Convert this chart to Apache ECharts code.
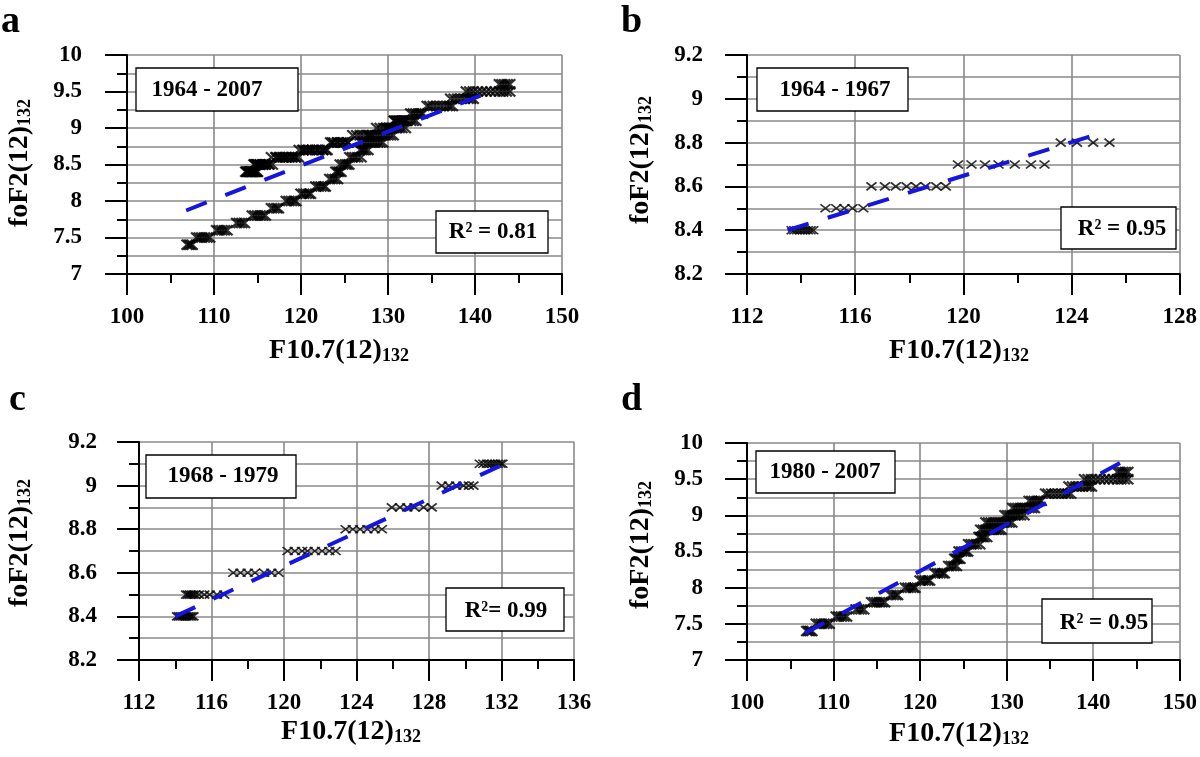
<!DOCTYPE html>
<html>
<head>
<meta charset="utf-8">
<script src="https://cdn.jsdelivr.net/npm/echarts@6/dist/echarts.min.js"></script>
<style>
html,body{margin:0;padding:0;background:#fff;}
#chart{width:1200px;height:757px;}
</style>
</head>
<body>
<div id="chart"></div>
<script>
// ---------- DATA ----------
// Panel b: 1964-1967  [F10.7(12)132, foF2(12)132]
const data6467 = [
  [113.65,8.4],[113.75,8.4],[113.85,8.4],[113.95,8.4],[114.05,8.4],[114.15,8.4],[114.25,8.4],[114.35,8.4],[114.45,8.4],
  [114.9,8.5],[115.3,8.5],[115.6,8.5],[115.9,8.5],[116.3,8.5],
  [116.6,8.6],[117.1,8.6],[117.5,8.6],[117.9,8.6],[118.25,8.6],[118.6,8.6],[119.0,8.6],[119.35,8.6],
  [119.8,8.7],[120.3,8.7],[120.8,8.7],[121.3,8.7],[121.9,8.7],[122.5,8.7],[123.0,8.7],
  [123.6,8.8],[124.2,8.8],[124.8,8.8],[125.4,8.8]
];
// Panel c: 1968-1979
const data6879 = [
  [114.1,8.4],[114.2,8.4],[114.3,8.4],[114.4,8.4],[114.5,8.4],[114.6,8.4],[114.7,8.4],[114.8,8.4],[114.9,8.4],[115.0,8.4],
  [114.6,8.5],[114.7,8.5],[114.8,8.5],[114.9,8.5],[115.0,8.5],[115.1,8.5],[115.3,8.5],[115.6,8.5],[115.9,8.5],[116.3,8.5],[116.7,8.5],
  [117.2,8.6],[117.6,8.6],[118.0,8.6],[118.4,8.6],[118.9,8.6],[119.3,8.6],[119.7,8.6],
  [120.2,8.7],[120.6,8.7],[121.0,8.7],[121.3,8.7],[121.7,8.7],[122.1,8.7],[122.5,8.7],[122.85,8.7],
  [123.4,8.8],[123.8,8.8],[124.2,8.8],[124.6,8.8],[125.0,8.8],[125.4,8.8],
  [125.95,8.9],[126.4,8.9],[126.8,8.9],[127.2,8.9],[127.7,8.9],[128.15,8.9],
  [128.7,9.0],[129.1,9.0],[129.5,9.0],[129.9,9.0],[130.2,9.0],[130.45,9.0],
  [130.8,9.1],[131.0,9.1],[131.2,9.1],[131.35,9.1],[131.5,9.1],[131.65,9.1],[131.8,9.1],[131.95,9.1],[132.05,9.1]
];
// Panel d: 1980-2007
const data8007 = [
  [106.9,7.4],[107.1,7.4],[107.3,7.4],[107.5,7.4],
  [108.0,7.5],[108.3,7.5],[108.6,7.5],[108.9,7.5],[109.2,7.5],[109.5,7.5],
  [110.3,7.6],[110.6,7.6],[110.9,7.6],[111.2,7.6],[111.5,7.6],
  [112.6,7.7],[112.9,7.7],[113.2,7.7],[113.5,7.7],
  [114.4,7.8],[114.7,7.8],[115.0,7.8],[115.3,7.8],[115.6,7.8],[115.9,7.8],
  [116.6,7.9],[116.9,7.9],[117.2,7.9],[117.4,7.9],
  [118.3,8.0],[118.6,8.0],[118.9,8.0],[119.2,8.0],[119.4,8.0],
  [120.0,8.1],[120.3,8.1],[120.6,8.1],[120.9,8.1],[121.1,8.1],
  [121.7,8.2],[122.0,8.2],[122.3,8.2],[122.6,8.2],[122.8,8.2],
  [123.3,8.3],[123.6,8.3],[123.9,8.3],[124.2,8.3],
  [124.0,8.4],[124.2,8.4],[124.4,8.4],[124.6,8.4],
  [124.5,8.5],[124.8,8.5],[125.1,8.5],[125.3,8.5],[125.5,8.5],
  [125.6,8.6],[125.9,8.6],[126.2,8.6],[126.5,8.6],[126.9,8.6],
  [126.8,8.7],[127.0,8.7],[127.2,8.7],[127.4,8.7],[127.7,8.7],
  [127.0,8.8],[127.3,8.8],[127.6,8.8],[127.9,8.8],[128.2,8.8],[128.5,8.8],[128.8,8.8],[129.1,8.8],[129.4,8.8],
  [127.6,8.9],[127.9,8.9],[128.2,8.9],[128.5,8.9],[128.8,8.9],[129.1,8.9],[129.4,8.9],[129.7,8.9],[130.0,8.9],[130.3,8.9],[130.6,8.9],
  [129.8,9.0],[130.1,9.0],[130.4,9.0],[130.7,9.0],[131.0,9.0],[131.3,9.0],[131.6,9.0],[132.0,9.0],
  [130.7,9.1],[131.0,9.1],[131.3,9.1],[131.6,9.1],[131.9,9.1],[132.2,9.1],[132.6,9.1],[132.9,9.1],[133.2,9.1],
  [132.6,9.2],[132.9,9.2],[133.2,9.2],[133.5,9.2],[133.8,9.2],[134.0,9.2],
  [134.5,9.3],[134.8,9.3],[135.2,9.3],[135.6,9.3],[136.0,9.3],[136.4,9.3],[136.8,9.3],[137.1,9.3],[137.4,9.3],
  [137.2,9.4],[137.6,9.4],[138.0,9.4],[138.4,9.4],[138.8,9.4],[139.2,9.4],[139.5,9.4],[139.8,9.4],
  [139.0,9.5],[139.4,9.5],[139.8,9.5],[140.3,9.5],[140.8,9.5],[141.3,9.5],[141.8,9.5],[142.3,9.5],[142.8,9.5],[143.2,9.5],[143.6,9.5],[144.0,9.5],
  [142.8,9.6],[143.1,9.6],[143.4,9.6],[143.7,9.6],[144.0,9.6]
];
// Panel a: 1964-2007 (all points)
const data6407 = data6467.concat(data6879, data8007);

// Regression (trend) line end points
const trendA = [[106.8,7.87],[141.6,9.49]];
const trendB = [[113.5,8.40],[125.0,8.84]];
const trendC = [[114.0,8.40],[132.3,9.105]];
const trendD = [[106.7,7.37],[143.9,9.775]];

// Tick values
const xTicksA = [100,110,120,130,140,150];
const yTicksA = [7,7.5,8,8.5,9,9.5,10];
const xTicksB = [112,116,120,124,128];
const yTicksB = [8.2,8.4,8.6,8.8,9,9.2];
const xTicksC = [112,116,120,124,128,132,136];
const yTicksC = [8.2,8.4,8.6,8.8,9,9.2];
const xTicksD = [100,110,120,130,140,150];
const yTicksD = [7,7.5,8,8.5,9,9.5,10];

// Texts
const periodLabels = ['1964 - 2007','1964 - 1967','1968 - 1979','1980 - 2007'];
const r2Labels = ['R\u00B2 = 0.81','R\u00B2 = 0.95','R\u00B2= 0.99','R\u00B2 = 0.95'];
const panelLetters = ['a','b','c','d'];

// ---------- LAYOUT ----------
const FONT = "'Liberation Serif','Times New Roman',serif";
const grids = [
  {left:127, top:55, width:435, height:219},
  {left:747, top:55, width:435, height:219},
  {left:139, top:442, width:435, height:218},
  {left:747, top:443, width:435, height:217}
];
const xTickSets = [xTicksA,xTicksB,xTicksC,xTicksD];
const yTickSets = [yTicksA,yTicksB,yTicksC,yTicksD];
const dataSets = [data6407,data6467,data6879,data8007];
const trends = [trendA,trendB,trendC,trendD];
const yLabelMargin = [45,44,42,44];
const markerSize = [[11,10],[10,8],[10,8],[11,10]];
const markerWidth = [2.2,1.7,1.7,2.2];

const GRIDC = '#8a8a8a';
function step(t){ return +(t[1]-t[0]).toFixed(6); }

const xAxes = xTickSets.map((t,i)=>({
  type:'value', gridIndex:i, min:t[0], max:t[t.length-1], interval:step(t),
  axisLine:{show:true, onZero:false, lineStyle:{color:'#000', width:2}},
  axisTick:{show:true, length:21, lineStyle:{color:'#000', width:2}},
  minorTick:{show:true, splitNumber:2, length:9, lineStyle:{color:'#000', width:2}},
  splitLine:{show:true, lineStyle:{color:GRIDC, width:1.6}},
  axisLabel:{margin:32, fontSize:23, fontWeight:'bold', fontFamily:FONT, color:'#000'}
}));
const yAxes = yTickSets.map((t,i)=>({
  type:'value', gridIndex:i, min:t[0], max:t[t.length-1], interval:step(t),
  axisLine:{show:true, onZero:false, lineStyle:{color:'#000', width:2}},
  axisTick:{show:true, length:22, lineStyle:{color:'#000', width:2}},
  minorTick:{show:true, splitNumber:2, length:10, lineStyle:{color:'#000', width:2}},
  splitLine:{show:true, lineStyle:{color:GRIDC, width:1.6}},
  minorSplitLine:{show:true, lineStyle:{color:GRIDC, width:1.6}},
  axisLabel:{margin:yLabelMargin[i], fontSize:23, fontWeight:'bold', fontFamily:FONT, color:'#000'}
}));

const XMARK = 'path://M0,0L10,10M10,0L0,10';
const series = [];
dataSets.forEach((d,i)=>{
  series.push({
    type:'scatter', xAxisIndex:i, yAxisIndex:i, data:d,
    symbol:XMARK, symbolSize:markerSize[i], silent:true,
    itemStyle:{color:'#000', borderColor:'#000', borderWidth:markerWidth[i]},
    z:3
  });
  series.push({
    type:'line', xAxisIndex:i, yAxisIndex:i, data:trends[i],
    showSymbol:false, symbol:'none', silent:true,
    lineStyle:{color:'#1515e0', width:4, type:[22,20]},
    z:4
  });
});

// ---------- ANNOTATIONS ----------
const rich = {
  m:{fontSize:28, fontWeight:'bold', fontFamily:FONT, lineHeight:28, verticalAlign:'top', fill:'#000'},
  s:{fontSize:18, fontWeight:'bold', fontFamily:FONT, lineHeight:18, padding:[16,0,0,0], verticalAlign:'bottom', fill:'#000'}
};
function titleText(txt, x, y, rot){
  return {type:'text', x:x, y:y, rotation:rot||0, z:100,
    style:{text:txt, rich:rich, align:'center', verticalAlign:'middle', textAlign:'center', textVerticalAlign:'middle'}};
}
function plainText(txt, x, y, size, align, valign){
  return {type:'text', x:x, y:y, z:101,
    style:{text:txt, fill:'#000', font:'bold '+size+'px '+FONT,
      align:align||'center', verticalAlign:valign||'middle', textAlign:align||'center', textVerticalAlign:valign||'middle'}};
}
function box(x,y,w,h){
  return {type:'rect', z:100, shape:{x:x,y:y,width:w,height:h}, style:{fill:'#fff', stroke:'#000', lineWidth:1.3}};
}
const xTitlePos = [[339,351],[959,351],[351,732],[959,734]];
const yTitlePos = [[20,163],[641,160],[20,543],[641,545]];
const periodBox = [[136,68,162,43],[757,68,151,43],[146,455,150,43],[756,451,139,42]];
const periodTxt = [[207,90],[835,90],[223,476],[825,472]];
const r2Box = [[436,211,112,42],[1061,207,115,42],[446,588,118,43],[1042,599,110,44]];
const r2Txt = [[493,232],[1122,229],[506,611],[1104,623]];
const letterPos = [[1,3],[621,3],[9,381],[621,381]];

const graphic = [];
for(let i=0;i<4;i++){
  graphic.push(titleText('{m|F10.7(12)}{s|132}', xTitlePos[i][0], xTitlePos[i][1], 0));
  graphic.push(titleText('{m|foF2(12)}{s|132}', yTitlePos[i][0], yTitlePos[i][1], Math.PI/2));
  graphic.push(box.apply(null, periodBox[i]));
  graphic.push(plainText(periodLabels[i], periodTxt[i][0], periodTxt[i][1], 23));
  graphic.push(box.apply(null, r2Box[i]));
  graphic.push(plainText(r2Labels[i], r2Txt[i][0], r2Txt[i][1], 23));
  graphic.push(plainText(panelLetters[i], letterPos[i][0], letterPos[i][1], 38, 'left', 'top'));
}

const chart = echarts.init(document.getElementById('chart'), null, {renderer:'canvas'});
chart.setOption({
  animation:false,
  backgroundColor:'#fff',
  grid:grids.map(g=>Object.assign({containLabel:false}, g)),
  xAxis:xAxes,
  yAxis:yAxes,
  series:series,
  graphic:graphic
});
</script>
</body>
</html>
